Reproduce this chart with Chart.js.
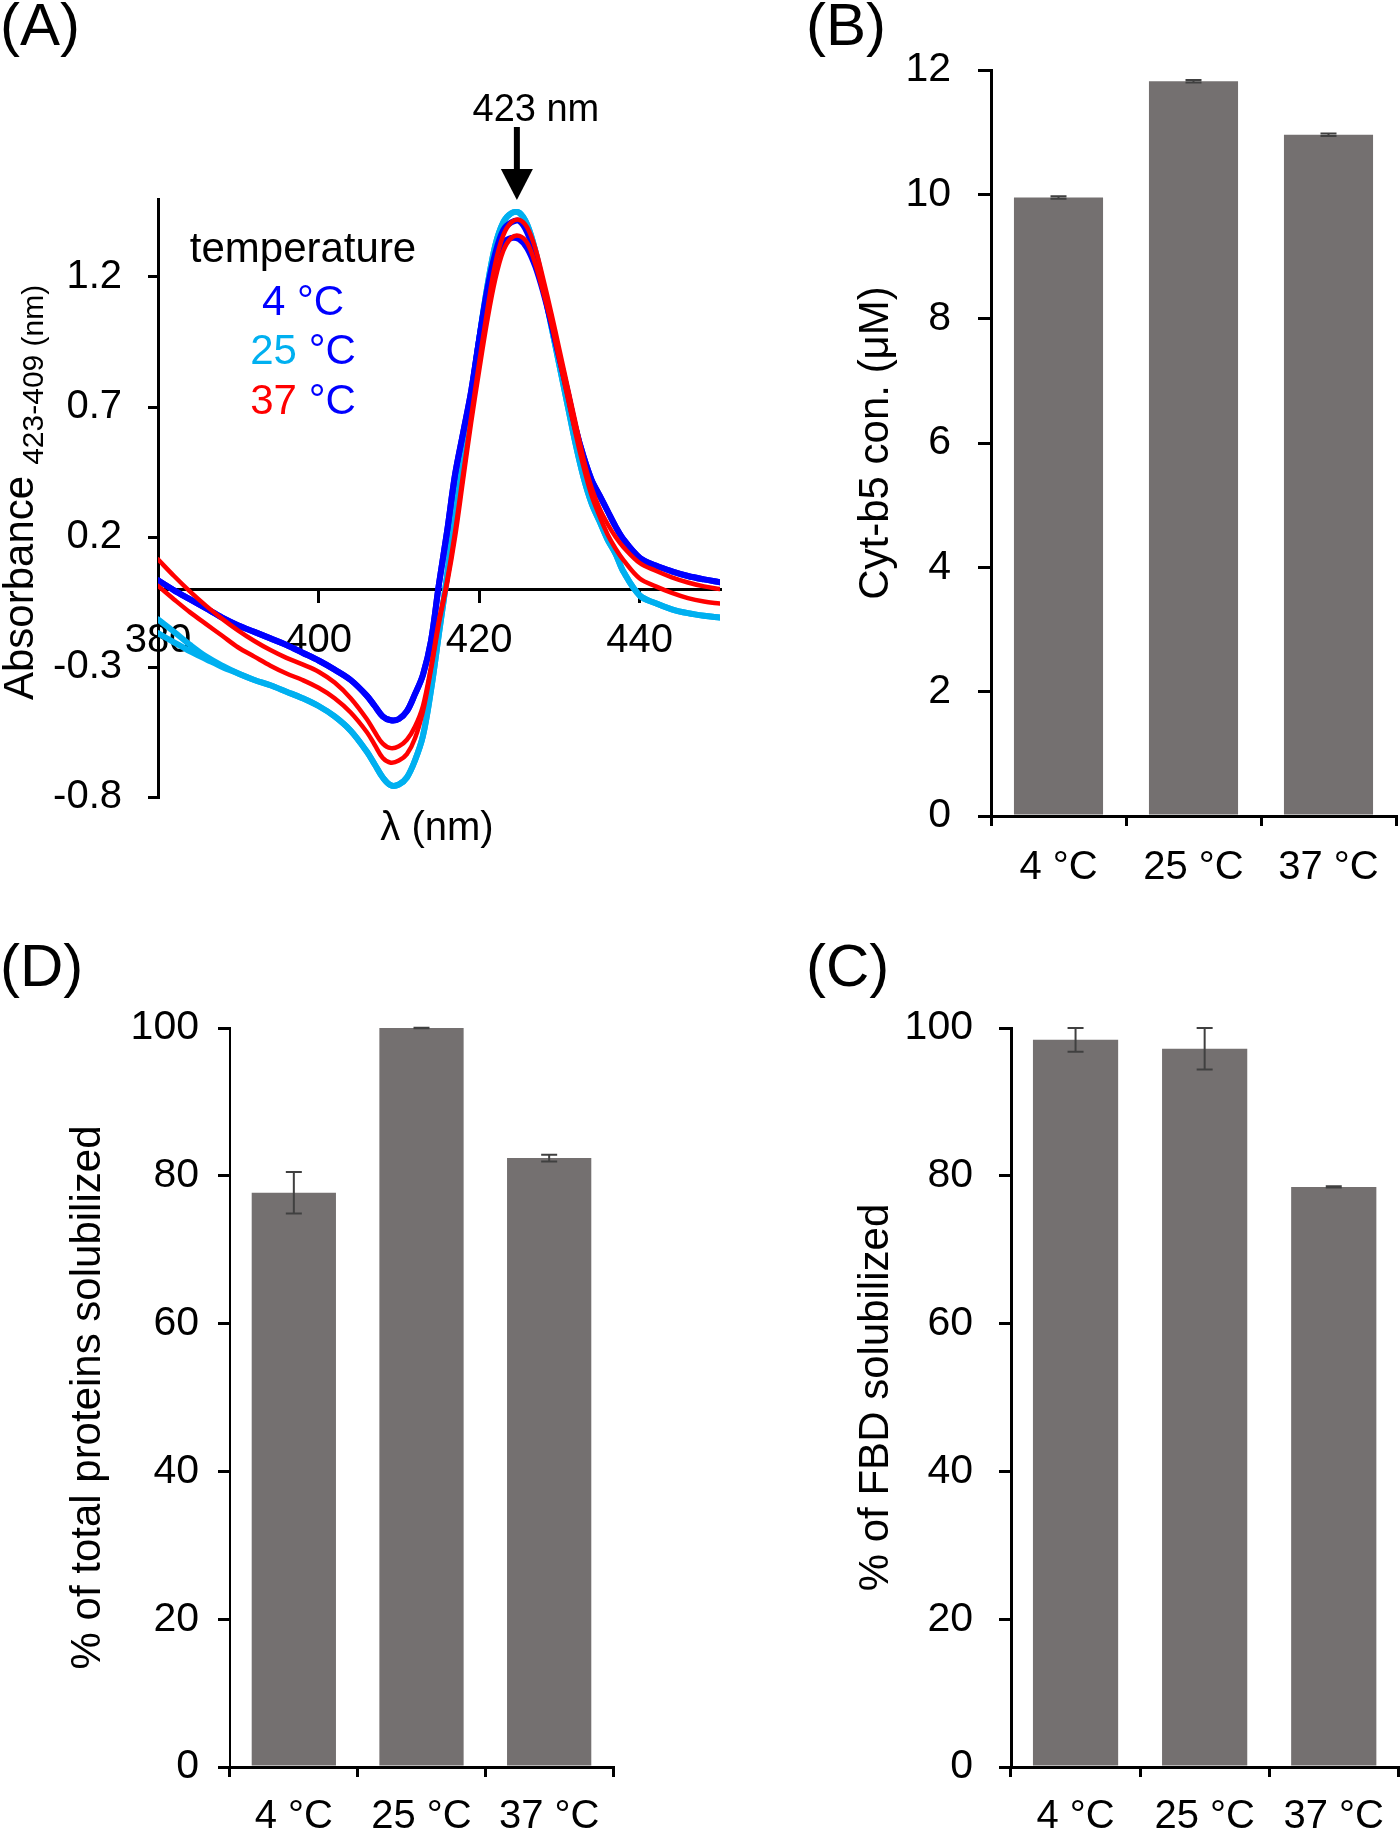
<!DOCTYPE html>
<html lang="en">
<head>
<meta charset="UTF-8">
<title>Cyt-b5 expression vs temperature</title>
<script src="https://cdn.jsdelivr.net/npm/chart.js"></script>
<style>
    body {
        margin: 0;
        background: #fff;
    }
    .figure {
        position: relative;
        width: 1400px;
        height: 1832px;
        overflow: hidden;
        background: #fff;
    }
    .figure canvas {
        position: absolute;
    }
</style>
</head>
<body>
<div class="figure">
    <canvas id="panelA" width="724" height="880" style="left:0;top:0;width:724px;height:880px"></canvas>
    <canvas id="panelB" width="600" height="900" style="left:800px;top:0;width:600px;height:900px"></canvas>
    <canvas id="panelD" width="660" height="932" style="left:0;top:900px;width:660px;height:932px"></canvas>
    <canvas id="panelC" width="620" height="932" style="left:780px;top:900px;width:620px;height:932px"></canvas>
</div>

<script>
// ---- data ----
const tempLabels = ['4 °C', '25 °C', '37 °C'];
const tempNumbers = ['4', '25', '37'];

// (A) difference spectra, two traces per temperature
const wavelengths = [380, 382, 384, 386, 388, 390, 392, 394, 396, 398, 400, 402, 404, 406,
    407, 408, 409, 410, 411, 412, 413, 414, 415, 416, 417, 418, 419, 420, 421, 422, 423, 424,
    425, 426, 427, 428, 429, 430, 431, 432, 433, 434, 435, 436, 437, 438, 440, 442, 444, 446, 448, 450];
const abs4cA = [0.033, -0.005, -0.04, -0.075, -0.11, -0.14, -0.165, -0.19, -0.215, -0.245, -0.275, -0.31, -0.35, -0.41,
    -0.45, -0.49, -0.505, -0.5, -0.47, -0.405, -0.33, -0.2, 0.02, 0.22, 0.44, 0.6, 0.76, 0.96, 1.15, 1.29, 1.38, 1.41,
    1.415, 1.37, 1.28, 1.16, 1.02, 0.89, 0.76, 0.62, 0.51, 0.42, 0.36, 0.3, 0.24, 0.19, 0.12, 0.09, 0.068, 0.05, 0.037, 0.026];
const abs4cB = [0.033, -0.005, -0.04, -0.075, -0.11, -0.14, -0.165, -0.19, -0.215, -0.245, -0.275, -0.31, -0.35, -0.41,
    -0.45, -0.49, -0.505, -0.5, -0.47, -0.405, -0.33, -0.2, 0.02, 0.22, 0.44, 0.6, 0.76, 0.96, 1.14, 1.27, 1.33, 1.35,
    1.345, 1.31, 1.24, 1.14, 1.02, 0.89, 0.76, 0.62, 0.51, 0.42, 0.36, 0.3, 0.24, 0.19, 0.12, 0.09, 0.068, 0.05, 0.037, 0.026];
const abs25cA = [-0.117, -0.165, -0.215, -0.26, -0.295, -0.325, -0.35, -0.37, -0.395, -0.42, -0.45, -0.49, -0.545, -0.625,
    -0.675, -0.725, -0.755, -0.752, -0.725, -0.66, -0.565, -0.39, -0.17, 0.05, 0.3, 0.54, 0.74, 0.96, 1.16, 1.32, 1.41, 1.445,
    1.447, 1.4, 1.3, 1.16, 1.01, 0.86, 0.71, 0.56, 0.43, 0.33, 0.26, 0.19, 0.135, 0.065, -0.025, -0.055, -0.078, -0.093, -0.103, -0.11];
const abs25cB = [-0.17, -0.205, -0.24, -0.27, -0.3, -0.325, -0.35, -0.37, -0.395, -0.42, -0.45, -0.49, -0.545, -0.625,
    -0.675, -0.725, -0.755, -0.752, -0.725, -0.66, -0.565, -0.39, -0.17, 0.05, 0.3, 0.54, 0.74, 0.96, 1.16, 1.32, 1.41, 1.445,
    1.447, 1.4, 1.3, 1.16, 1.01, 0.86, 0.71, 0.56, 0.43, 0.33, 0.26, 0.19, 0.135, 0.065, -0.025, -0.055, -0.078, -0.093, -0.103, -0.11];
const abs37cA = [0.114, 0.05, -0.01, -0.065, -0.115, -0.16, -0.2, -0.235, -0.265, -0.29, -0.318, -0.36, -0.42, -0.5,
    -0.55, -0.595, -0.612, -0.605, -0.58, -0.53, -0.45, -0.3, -0.12, 0.03, 0.22, 0.44, 0.66, 0.87, 1.07, 1.25, 1.36, 1.41,
    1.42, 1.39, 1.31, 1.19, 1.06, 0.92, 0.78, 0.64, 0.5, 0.39, 0.31, 0.25, 0.2, 0.16, 0.1, 0.07, 0.045, 0.025, 0.01, 0.0];
const abs37cB = [0.012, -0.04, -0.09, -0.135, -0.18, -0.225, -0.26, -0.295, -0.325, -0.35, -0.38, -0.42, -0.475, -0.55,
    -0.6, -0.65, -0.668, -0.66, -0.635, -0.575, -0.47, -0.31, -0.13, 0.02, 0.2, 0.42, 0.64, 0.84, 1.03, 1.19, 1.3, 1.35,
    1.358, 1.33, 1.25, 1.14, 1.02, 0.88, 0.74, 0.6, 0.47, 0.36, 0.28, 0.21, 0.155, 0.11, 0.04, 0.01, -0.015, -0.035, -0.048, -0.056];
const absTicks = [-0.8, -0.3, 0.2, 0.7, 1.2];
const nmTicks = [380, 400, 420, 440];
const peakLabel = '423 nm';
const peakArrowNm = 424.7;

// (B) Cyt-b5 concentration (µM)
const cytB5Values = [9.95, 11.82, 10.96];
const cytB5Errors = [0.02, 0.02, 0.02];
const cytB5Ticks = [0, 2, 4, 6, 8, 10, 12];

// (D) % of total proteins solubilized
const totalProtValues = [77.7, 100.0, 82.4];
const totalProtErrors = [2.8, 0.05, 0.45];

// (C) % of FBD solubilized
const fbdValues = [98.4, 97.2, 78.5];
const fbdErrors = [1.6, 2.8, 0.1];
const percentTicks = [0, 20, 40, 60, 80, 100];

// ---- styles ----
const FONT = '"Liberation Sans", Arial, sans-serif';
Chart.defaults.font.family = FONT;
Chart.defaults.color = '#000';

const blue = '#0000ff';
const cyan = '#00b0f0';
const red = '#ff0000';
const barColor = '#747070';
const errColor = '#404040';
const tickFont = { size: 41 };
const xTickFont = { size: 40 };
const titleFont = { size: 42 };

function panelLetter(text, x, y) {
    return {
        id: 'panelLetter',
        afterDraw(chart) {
            const ctx = chart.ctx;
            ctx.save();
            ctx.fillStyle = '#000';
            ctx.font = '60px ' + FONT;
            ctx.textAlign = 'left';
            ctx.textBaseline = 'alphabetic';
            ctx.fillText(text, x, y);
            ctx.restore();
        }
    };
}

function errorBars(values, errors) {
    return {
        id: 'errorBars',
        afterDatasetsDraw(chart) {
            const ys = chart.scales.y;
            const ctx = chart.ctx;
            ctx.save();
            ctx.strokeStyle = errColor;
            ctx.lineWidth = 2;
            chart.getDatasetMeta(0).data.forEach((bar, i) => {
                const top = ys.getPixelForValue(values[i] + errors[i]);
                const bot = ys.getPixelForValue(values[i] - errors[i]);
                ctx.beginPath();
                ctx.moveTo(bar.x, top); ctx.lineTo(bar.x, bot);
                ctx.moveTo(bar.x - 8, top); ctx.lineTo(bar.x + 8, top);
                ctx.moveTo(bar.x - 8, bot); ctx.lineTo(bar.x + 8, bot);
                ctx.stroke();
            });
            ctx.restore();
        }
    };
}

// ---- (A) spectra ----
function trace(values, color, width) {
    return {
        data: wavelengths.map((w, i) => ({ x: w, y: values[i] })),
        borderColor: color,
        borderWidth: width,
        borderCapStyle: 'round',
        borderJoinStyle: 'round',
        pointRadius: 0,
        fill: false,
        tension: 0.35
    };
}

const panelAExtras = {
    id: 'panelAExtras',
    afterDraw(chart) {
        const ctx = chart.ctx;
        const xs = chart.scales.x;
        const ys = chart.scales.y;
        ctx.save();
        ctx.fillStyle = '#000';
        ctx.strokeStyle = '#000';

        // arrow to the Soret peak
        const ax = xs.getPixelForValue(peakArrowNm);
        const tip = ys.top + 1;
        ctx.lineWidth = 6;
        ctx.beginPath();
        ctx.moveTo(ax, 127);
        ctx.lineTo(ax, tip - 26);
        ctx.stroke();
        ctx.beginPath();
        ctx.moveTo(ax - 16, tip - 31);
        ctx.lineTo(ax + 16, tip - 31);
        ctx.lineTo(ax, tip);
        ctx.closePath();
        ctx.fill();

        ctx.font = '38px ' + FONT;
        ctx.textAlign = 'center';
        ctx.textBaseline = 'alphabetic';
        ctx.fillText(peakLabel, ax + 19, 121);

        // legend
        ctx.font = '42px ' + FONT;
        ctx.fillText('temperature', 303, 262);
        const seriesColors = [blue, cyan, red];
        const baselines = [315, 364, 414];
        ctx.textAlign = 'left';
        tempNumbers.forEach((n, i) => {
            const unit = ' °C';
            const wNum = ctx.measureText(n).width;
            const wAll = ctx.measureText(n + unit).width;
            const x0 = 303 - wAll / 2;
            ctx.fillStyle = seriesColors[i];
            ctx.fillText(n, x0, baselines[i]);
            ctx.fillStyle = blue;
            ctx.fillText(unit, x0 + wNum, baselines[i]);
        });

        // x title
        ctx.fillStyle = '#000';
        ctx.textAlign = 'center';
        ctx.font = '40px ' + FONT;
        ctx.fillText('λ (nm)', 437, 840);

        // y title with subscript
        ctx.save();
        ctx.translate(33, 700);
        ctx.rotate(-Math.PI / 2);
        ctx.textAlign = 'left';
        ctx.font = '42px ' + FONT;
        ctx.fillText('Absorbance', 0, 0);
        const w = ctx.measureText('Absorbance').width;
        ctx.font = '30px ' + FONT;
        ctx.fillText('423-409 (nm)', w + 11, 10);
        ctx.restore();

        ctx.restore();
    }
};

new Chart(document.getElementById('panelA'), {
    type: 'line',
    data: {
        datasets: [
            trace(abs37cA, red, 4.5),
            trace(abs37cB, red, 4.5),
            trace(abs4cA, blue, 6),
            trace(abs4cB, blue, 6),
            trace(abs25cA, cyan, 6),
            trace(abs25cB, cyan, 6)
        ]
    },
    options: {
        responsive: false,
        animation: false,
        devicePixelRatio: 1,
        layout: { padding: { left: 0, top: 199, right: 4, bottom: 83 } },
        plugins: { legend: { display: false }, tooltip: { enabled: false } },
        scales: {
            x: {
                type: 'linear',
                min: 380,
                max: 450,
                position: { y: 0 },
                afterBuildTicks: s => { s.ticks = nmTicks.map(v => ({ value: v })); },
                grid: { drawOnChartArea: false, drawTicks: true, tickLength: 12, lineWidth: 3, color: '#000' },
                border: { display: true, color: '#000', width: 3 },
                ticks: { color: '#000', font: { size: 40 }, padding: 16, maxRotation: 0, autoSkip: false,
                    callback: v => String(v) }
            },
            y: {
                type: 'linear',
                min: -0.8,
                max: 1.5,
                afterBuildTicks: s => { s.ticks = absTicks.map(v => ({ value: v })); },
                grid: { drawOnChartArea: false, drawTicks: true, tickLength: 10, lineWidth: 3, color: '#000' },
                border: { display: true, color: '#000', width: 3 },
                ticks: { color: '#000', font: { size: 40 }, padding: 26, autoSkip: false,
                    callback: v => v.toFixed(1) },
                afterFit: s => { s.width = 158; }
            }
        }
    },
    plugins: [panelAExtras, panelLetter('(A)', 0, 45)]
});

// ---- bar panels ----
function barPanel(canvasId, o) {
    return new Chart(document.getElementById(canvasId), {
        type: 'bar',
        data: {
            labels: tempLabels,
            datasets: [{
                data: o.values,
                backgroundColor: barColor,
                borderWidth: 0,
                barPercentage: 0.66,
                categoryPercentage: 1
            }]
        },
        options: {
            responsive: false,
            animation: false,
            devicePixelRatio: 1,
            layout: { padding: o.padding },
            plugins: { legend: { display: false }, tooltip: { enabled: false } },
            scales: {
                x: {
                    offset: true,
                    grid: { offset: true, drawOnChartArea: false, drawTicks: true, tickLength: 10, lineWidth: 3, color: '#000' },
                    border: { display: true, color: '#000', width: 3 },
                    ticks: { color: '#000', font: xTickFont, padding: o.xPad, maxRotation: 0, autoSkip: false },
                    afterFit: s => { s.height = o.xHeight; }
                },
                y: {
                    min: 0,
                    max: o.yMax,
                    afterBuildTicks: s => { s.ticks = o.yTicks.map(v => ({ value: v })); },
                    grid: { drawOnChartArea: false, drawTicks: true, tickLength: o.tickLen, lineWidth: 3, color: '#000' },
                    border: { display: true, color: '#000', width: o.yBorder },
                    ticks: { color: '#000', font: tickFont, padding: o.yPad, autoSkip: false },
                    title: { display: true, text: o.title, color: '#000', font: titleFont, padding: 0 },
                    afterFit: s => { s.width = o.yWidth; }
                }
            }
        },
        plugins: [errorBars(o.values, o.errors), panelLetter(o.letter, o.letterX, o.letterY)]
    });
}

barPanel('panelB', {
    values: cytB5Values, errors: cytB5Errors, yMax: 12, yTicks: cytB5Ticks,
    title: 'Cyt-b5 con. (μM)',
    padding: { left: 51, top: 70, right: 4, bottom: 14 },
    yWidth: 140, xHeight: 70, tickLen: 13, yPad: 27, xPad: 18, yBorder: 3,
    letter: '(B)', letterX: 6, letterY: 45
});

barPanel('panelD', {
    values: totalProtValues, errors: totalProtErrors, yMax: 100, yTicks: percentTicks,
    title: '% of total proteins solubilized',
    padding: { left: 63, top: 128, right: 47, bottom: 0 },
    yWidth: 167, xHeight: 65, tickLen: 12, yPad: 19, xPad: 16, yBorder: 2,
    letter: '(D)', letterX: 0, letterY: 86
});

barPanel('panelC', {
    values: fbdValues, errors: fbdErrors, yMax: 100, yTicks: percentTicks,
    title: '% of FBD solubilized',
    padding: { left: 71, top: 128, right: 0, bottom: 0 },
    yWidth: 160, xHeight: 65, tickLen: 12, yPad: 26, xPad: 16, yBorder: 3,
    letter: '(C)', letterX: 26, letterY: 86
});
</script>
</body>
</html>
